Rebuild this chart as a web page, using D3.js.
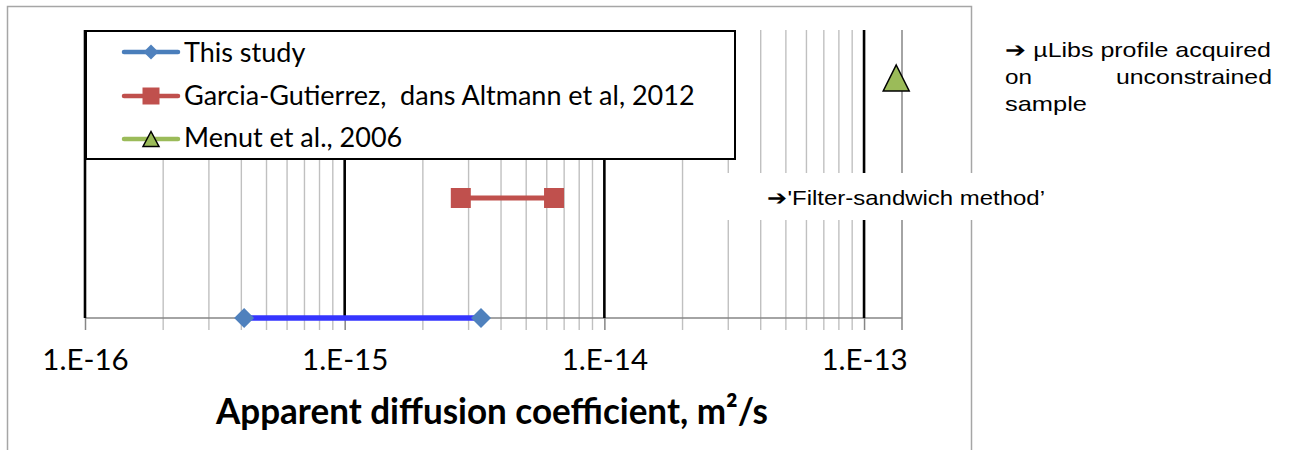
<!DOCTYPE html>
<html>
<head>
<meta charset="utf-8">
<script src="https://cdn.jsdelivr.net/npm/d3@7"></script>
<style>
  html, body { margin: 0; padding: 0; background: #fff; }
  svg { display: block; }
  text { white-space: pre; }
</style>
</head>
<body>
<svg id="chart" width="1289" height="450"></svg>
<script>
// ---- data ----
const seriesNames = ["This study", "Garcia-Gutierrez,  dans Altmann et al, 2012", "Menut et al., 2006"];
const thisStudyX = [4.1e-16, 3.35e-15];
const thisStudyY = [0, 0];
const garciaX = [2.8e-15, 6.4e-15];
const garciaY = [1, 1];
const menutX = [1.33e-13];
const menutY = [2];
const tickValues = [1e-16, 1e-15, 1e-14, 1e-13];
const tickLabels = ["1.E-16", "1.E-15", "1.E-14", "1.E-13"];
const axisTitle = "Apparent diffusion coefficient, m²/s";
const noteTop = ["➔ µLibs profile acquired", "on", "unconstrained", "sample"];
const noteMid = "➔'Filter-sandwich method’";

(function () {
// ---- layout ----
const svg = d3.select("#chart");
const pLeft = 85, pRight = 902, pTop = 30, axisY = 318, tickBottom = 330;
const x = d3.scaleLog().domain([1e-16, 1.4e-13]).range([pLeft, pRight]);
const y = d3.scaleLinear().domain([0, 2.4]).range([axisY, pTop]);
const calibri = "Lato, 'Noto Sans', sans-serif";
const arial = "'Liberation Sans', Arial, sans-serif";

// outer chart border
svg.append("rect").attr("x", 7.5).attr("y", 6.5).attr("width", 964).attr("height", 460)
  .attr("fill", "none").attr("stroke", "#a6a6a6").attr("stroke-width", 1.5);

// minor gridlines
const minor = [];
for (let e = -16; e <= -14; e++) for (let k = 2; k <= 9; k++) minor.push(k * Math.pow(10, e));
svg.append("g").selectAll("line").data(minor).join("line")
  .attr("x1", d => x(d)).attr("x2", d => x(d))
  .attr("y1", pTop).attr("y2", tickBottom)
  .attr("stroke", "#c0c0c0").attr("stroke-width", 1.4);

// x axis
const xAxis = d3.axisBottom(x).tickValues(tickValues).tickFormat((d, i) => tickLabels[i]).tickSize(12).tickPadding(20);
const gAxis = svg.append("g").attr("transform", `translate(0,${axisY})`).call(xAxis);
gAxis.select(".domain").remove();
gAxis.selectAll(".tick line").attr("stroke", "#868686").attr("stroke-width", 1.5);
gAxis.selectAll(".tick text").attr("font-family", calibri).attr("font-size", 29.5).attr("fill", "#000")
  .attr("dy", null).attr("y", 52);
svg.append("line").attr("x1", pLeft).attr("x2", pRight).attr("y1", axisY).attr("y2", axisY)
  .attr("stroke", "#868686").attr("stroke-width", 1.6);
// plot right border
svg.append("line").attr("x1", pRight).attr("x2", pRight).attr("y1", pTop).attr("y2", tickBottom)
  .attr("stroke", "#868686").attr("stroke-width", 1.5);

// major gridlines
svg.append("g").selectAll("line").data(tickValues).join("line")
  .attr("x1", d => x(d)).attr("x2", d => x(d))
  .attr("y1", pTop).attr("y2", axisY)
  .attr("stroke", "#000").attr("stroke-width", 2.6);

// axis title
svg.append("text").attr("x", 492).attr("y", 424).attr("text-anchor", "middle")
  .attr("font-family", calibri).attr("font-weight", "bold").attr("font-size", 37)
  .attr("textLength", 552).attr("lengthAdjust", "spacingAndGlyphs")
  .text(axisTitle);

// ---- series ----
const line = d3.line().x(d => x(d[0])).y(d => y(d[1]));
const diamond = s => `M0,${-s/2}L${s/2},0L0,${s/2}L${-s/2},0Z`;
const square = s => `M${-s/2},${-s/2}h${s}v${s}h${-s}Z`;
const tri = (w, h) => `M0,${-h/2}L${w/2},${h/2}L${-w/2},${h/2}Z`;

const ts = d3.zip(thisStudyX, thisStudyY);
svg.append("path").attr("d", line(ts)).attr("fill", "none").attr("stroke", "#3535ff").attr("stroke-width", 5.5);
svg.append("g").selectAll("path").data(ts).join("path")
  .attr("transform", d => `translate(${x(d[0])},${y(d[1])})`)
  .attr("d", diamond(20)).attr("fill", "#4f81bd");

const gg = d3.zip(garciaX, garciaY);
svg.append("path").attr("d", line(gg)).attr("fill", "none").attr("stroke", "#c0504d").attr("stroke-width", 5);
svg.append("g").selectAll("path").data(gg).join("path")
  .attr("transform", d => `translate(${x(d[0])},${y(d[1])})`)
  .attr("d", square(20)).attr("fill", "#c0504d");

const mm = d3.zip(menutX, menutY);
svg.append("g").selectAll("path").data(mm).join("path")
  .attr("transform", d => `translate(${x(d[0])},${y(d[1])})`)
  .attr("d", tri(26, 26)).attr("fill", "#9bbb59").attr("stroke", "#000").attr("stroke-width", 1.5);

// ---- legend ----
svg.append("rect").attr("x", 86).attr("y", 31).attr("width", 649).attr("height", 128)
  .attr("fill", "#fff").attr("stroke", "#000").attr("stroke-width", 2);
const legColors = ["#4a7ebb", "#c0504d", "#9bbb59"];
const legMarkerFill = ["#4f81bd", "#c0504d", "#9bbb59"];
const legY = [52, 96, 139];
const legBase = [62, 105, 147];
seriesNames.forEach((name, i) => {
  svg.append("line").attr("x1", 124).attr("x2", 178).attr("y1", legY[i]).attr("y2", legY[i])
    .attr("stroke", legColors[i]).attr("stroke-width", 4.5).attr("stroke-linecap", "round");
  const m = svg.append("path").attr("transform", `translate(151,${legY[i]})`).attr("fill", legMarkerFill[i]);
  if (i === 0) m.attr("d", diamond(15));
  else if (i === 1) m.attr("d", square(17));
  else m.attr("d", tri(16, 15)).attr("stroke", "#000").attr("stroke-width", 1.5);
  svg.append("text").attr("x", 184).attr("y", legBase[i])
    .attr("font-family", calibri).attr("font-size", 27).attr("fill", "#000").text(name);
});

// ---- annotations ----
svg.append("rect").attr("x", 712).attr("y", 173).attr("width", 370).attr("height", 47).attr("fill", "#fff");
svg.append("text").attr("x", 767).attr("y", 205).attr("font-family", arial).attr("font-size", 21)
  .attr("textLength", 278).attr("lengthAdjust", "spacingAndGlyphs").text(noteMid);

svg.append("text").attr("x", 1005).attr("y", 57).attr("font-family", arial).attr("font-size", 21)
  .attr("textLength", 266).attr("lengthAdjust", "spacingAndGlyphs").text(noteTop[0]);
svg.append("text").attr("x", 1005).attr("y", 84).attr("font-family", arial).attr("font-size", 21)
  .attr("textLength", 27).attr("lengthAdjust", "spacingAndGlyphs").text(noteTop[1]);
svg.append("text").attr("x", 1272).attr("y", 84).attr("text-anchor", "end").attr("font-family", arial).attr("font-size", 21)
  .attr("textLength", 156).attr("lengthAdjust", "spacingAndGlyphs").text(noteTop[2]);
svg.append("text").attr("x", 1005).attr("y", 111).attr("font-family", arial).attr("font-size", 21)
  .attr("textLength", 82).attr("lengthAdjust", "spacingAndGlyphs").text(noteTop[3]);
})();
</script>
</body>
</html>
